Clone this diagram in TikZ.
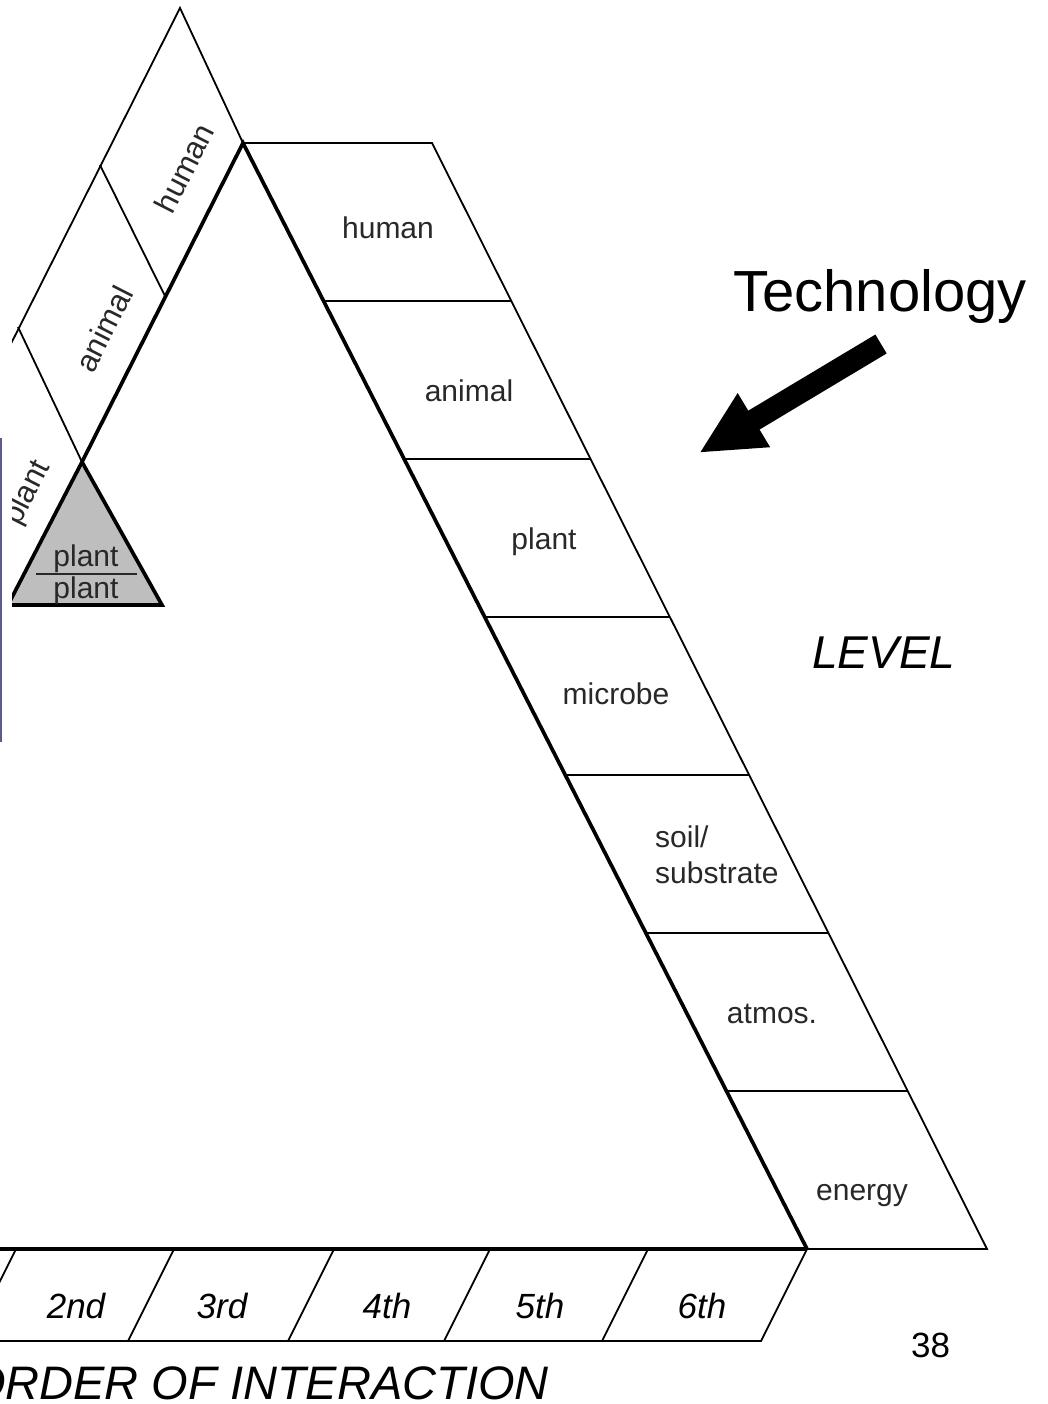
\documentclass[tikz,border=0pt]{standalone}
\usepackage{fontspec}
\setmainfont{Liberation Sans}
\usetikzlibrary{calc,arrows.meta}
\definecolor{tri}{RGB}{190,190,190}
\definecolor{framecol}{RGB}{92,92,140}
\definecolor{ink}{RGB}{40,40,40}
\begin{document}
\begin{tikzpicture}[x=1pt,y=-1pt,
  heavy/.style={line width=3.7pt, line join=miter},
  light/.style={line width=1.8pt},
  cell/.style={font=\fontsize{30}{36}\selectfont, text=ink, inner sep=0pt, anchor=base},
  ord/.style={font=\fontsize{35}{40}\selectfont\itshape, inner sep=0pt, anchor=base},
  side/.style={font=\fontsize{31}{36}\selectfont, text=ink, inner sep=0pt, rotate=63}
]
\useasboundingbox (0,0) rectangle (1048,1404);

% corners of the main triangle and of the level band on its right edge
\coordinate (apex) at (243,143);
\coordinate (foot) at (807,1249);
\coordinate (pk) at (82,462);
\coordinate (rt) at (432,143);
\coordinate (rb) at (987,1249);

% level band: seven cells along the right edge
\foreach \k in {1,...,6}
  \draw[light] ($(apex)!\k/7!(foot)$) -- ($(rt)!\k/7!(rb)$);
\draw[light] (apex) -- (rt) -- (rb) -- (foot);

% order band along the base
\coordinate (bl) at (0,1249);
\coordinate (bll) at (0,1341);
\coordinate (brl) at (761,1341);
\draw[light] (bll) -- (brl) -- (foot);
\foreach \x in {16,174,334,490,648}
  \draw[light] (\x,1249) -- (\x-46,1341);
\draw[heavy] (bl) -- (foot);

% level band along the left edge and the small plant/plant triangle
\begin{scope}
  \clip (12,0) -- (1048,0) -- (1048,1404) -- (0,1404) -- (0,1000) -- (12,1000) -- cycle;
  \coordinate (lt) at (180,8);
  \coordinate (lo1) at (100,165);
  \coordinate (li1) at (165,296);
  \coordinate (lo2) at (18,327);
  \coordinate (lend) at (-40,445);
  \draw[light] (lend) -- (lt) -- (apex);
  \draw[light] (lo1) -- (li1);
  \draw[light] (lo2) -- (pk);
  \filldraw[fill=tri, heavy] (pk) -- (162,605) -- (8,605) -- cycle;
  \node[side] (sh) at (184,168) {human};
  \node[side] (sa) at (104,329) {animal};
  \node[side] (sp) at (28,493) {plant};
\end{scope}
\draw[heavy] (pk) -- (apex) -- (foot);

% fraction inside the small triangle
\node[cell] (pp1) at (86,566) {plant};
\node[cell] (pp2) at (86,598) {plant};
\coordinate (fl) at (36,574);
\coordinate (fr) at (137,574);
\draw[line width=2pt, ink] (fl) -- (fr);

% cell labels of the level band
\node[cell] (c1) at (388,239) {human};
\node[cell] (c2) at (469,401) {animal};
\node[cell] (c3) at (544,549) {plant};
\node[cell] (c4) at (616,704) {microbe};
\node[cell, anchor=base west] (c5a) at (655,847) {soil/};
\node[cell, anchor=base west] (c5b) at (655,883) {substrate};
\node[cell] (c6) at (772,1023) {atmos.};
\node[cell] (c7) at (862,1200) {energy};

% cell labels of the order band
\node[ord] (o2) at (76,1318) {2nd};
\node[ord] (o3) at (222,1318) {3rd};
\node[ord] (o4) at (387,1318) {4th};
\node[ord] (o5) at (540,1318) {5th};
\node[ord] (o6) at (702,1318) {6th};

% titles
\node[anchor=base west, font=\fontsize{58}{64}\selectfont, inner sep=0pt] (tech) at (733,312) {Technology};
\coordinate (techtail) at (881,344);
\coordinate (techtip) at (699,453);
\draw[line width=22pt, -{Triangle[length=64pt,width=58pt]}] (techtail) -- (techtip);
\node[anchor=base west, font=\fontsize{46}{50}\selectfont\itshape, inner sep=0pt] (level) at (812,668) {LEVEL};
\node[anchor=base east, font=\fontsize{47}{52}\selectfont\itshape, inner sep=0pt] (order) at (549,1399) {ORDER OF INTERACTION};
\node[anchor=base west, font=\fontsize{35}{40}\selectfont, inner sep=0pt] (pagenum) at (911,1357) {38};

% frame edge at the left margin
\coordinate (ft) at (1.2,438);
\coordinate (fb) at (1.2,742);
\draw[framecol, line width=2.5pt] (ft) -- (fb);
\end{tikzpicture}
\end{document}
